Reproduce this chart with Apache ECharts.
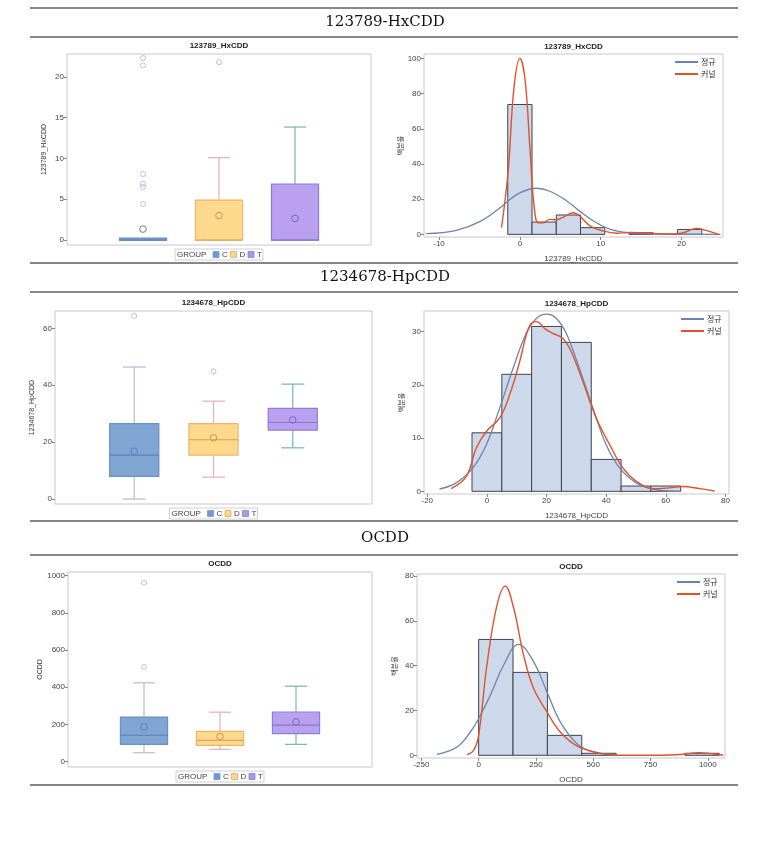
<!DOCTYPE html>
<html><head><meta charset="utf-8">
<script src="https://cdn.jsdelivr.net/npm/echarts@6/dist/echarts.min.js"></script>
<style>html,body{margin:0;padding:0;background:#fff}#c{width:773px;height:848px}</style>
</head><body><div id="c"></div>
<script>
// ---------- DATA ----------
const groups = ['C', 'D', 'T'];
const sections = ['123789-HxCDD', '1234678-HpCDD', 'OCDD'];
const varNames = ['123789_HxCDD', '1234678_HpCDD', 'OCDD'];

// box stats per group: [min, q1, median, q3, max, mean]
const hxBoxC = [0, 0, 0, 0, 0, 1.35];
const hxBoxD = [0, 0, 0, 4.9, 10.1, 3.0];
const hxBoxT = [0, 0, 0, 6.85, 13.85, 2.65];
const hxOutC = [22.3, 21.4, 8.1, 6.9, 6.5, 4.45];
const hxOutD = [21.8];
const hxOutT = [];

const hpBoxC = [0, 7.95, 15.4, 26.5, 46.4, 16.8];
const hpBoxD = [7.7, 15.4, 20.9, 26.5, 34.4, 21.5];
const hpBoxT = [18.0, 24.2, 26.9, 31.9, 40.4, 27.8];
const hpOutC = [64.4];
const hpOutD = [44.9];
const hpOutT = [];

const ocBoxC = [48, 93, 142, 240, 424, 187];
const ocBoxD = [66, 88, 115, 163, 266, 135];
const ocBoxT = [93, 151, 196, 267, 406, 214];
const ocOutC = [962, 510];
const ocOutD = [];
const ocOutT = [];

// histogram bins (lower edge) and percent
const hxBinLo = [-1.5, 1.5, 4.5, 7.5, 10.5, 13.5, 16.5, 19.5];
const hxBinW = 3;
const hxPct = [73.8, 7.0, 11.0, 3.8, 0, 0.9, 0, 2.8];
const hpBinLo = [-5, 5, 15, 25, 35, 45, 55];
const hpBinW = 10;
const hpPct = [11, 22, 31, 28, 6, 1, 1];
const ocBinLo = [0, 150, 300, 450, 600, 750, 900];
const ocBinW = 150;
const ocPct = [51.7, 37, 8.9, 0.9, 0, 0, 0.9];

// curves: [x, percent]
const hxNormal = [[-11.6,0.4],[-7.85,2.3],[-4.96,7.2],[-2.48,15],[-1.5,18.8],[0,23.6],[2.07,26.2],[3.7,24.5],[5.8,19],[7.4,13.2],[9.1,7.6],[11.2,2.9],[13.6,0.9],[16.9,0.2],[24.8,0]];
const hxKernel = [[-2.27,3.8],[-1.45,36],[-0.74,83],[0,100],[0.62,88.7],[1.24,49],[1.74,17],[2.27,6.6],[2.9,6.6],[3.7,8.5],[4.5,8.3],[5.4,9.8],[6.6,12.3],[7.4,10.4],[8.7,4.7],[10.3,1.9],[12,0.6],[13.6,1.1],[15.3,0.75],[16.9,0.4],[19,0.2],[20.2,0.9],[21.9,3.4],[23,2.3],[24.6,0]];
const hpNormal = [[-15.9,0.44],[-10.3,1.6],[-4.7,4.4],[-0.2,8.75],[4.25,15.6],[8.7,23],[13.2,29.7],[16.6,32.5],[20,33.3],[23.3,32.5],[26.6,29.7],[31.1,23],[35.6,15.6],[40,8.75],[44.5,4.4],[50.1,1.6],[56.8,0.3],[64.6,0]];
const hpKernel = [[-12,0.5],[-6.9,2.8],[-3.6,8.1],[-0.2,11.25],[4.25,13.75],[7.6,18.1],[11,24.4],[13.2,29.4],[14.9,31.6],[16.6,31.9],[19.4,30.6],[22.1,29.7],[25.5,28.75],[28.3,26.25],[32.2,20.6],[36.7,13.75],[41.2,8.75],[45.6,4.4],[50.1,1.9],[55.7,0.5],[60.2,0.6],[65.8,0.9],[71.4,0.5],[76.4,0.06]];
const ocNormal = [[-182,0.45],[-94,3.7],[-36,10.4],[0,16.4],[51,26.8],[109,40.2],[174,49.5],[240,41.7],[298,28.3],[356,14.9],[429,5.2],[501,1.5],[603,0.3]];
const ocKernel = [[-51,0.3],[-22,2.2],[0,8.9],[36,40.2],[80,67],[116,75.5],[153,65.6],[196,44.7],[240,29.8],[298,19.4],[356,10.4],[429,4.2],[516,1.2],[603,0],[778,0],[894,0.45],[959,1.2],[1025,0.6],[1068,0]];

// axis ranges and ticks
const boxYRange = [[-0.6, 22.8], [-1.75, 66.1], [-28.7, 1020]];
const boxYTicks = [[0,5,10,15,20], [0,20,40,60], [0,200,400,600,800,1000]];
const histXRange = [[-11.86, 25.12], [-21.1, 81.2], [-269, 1075]];
const histXTicks = [[-10,0,10,20], [-20,0,20,40,60,80], [-250,0,250,500,750,1000]];
const histYRange = [[-1.5, 102.5], [-0.5, 33.9], [-1.2, 80.9]];
const histYTicks = [[0,20,40,60,80,100], [0,10,20,30], [0,20,40,60,80]];

// ---------- STYLE / LAYOUT ----------
const boxGrids = [
  {left:67, top:54, width:304, height:191},
  {left:55, top:311, width:317, height:193},
  {left:68, top:572, width:304, height:195}
];
const histGrids = [
  {left:424, top:54, width:299, height:183},
  {left:424, top:311, width:305, height:183},
  {left:417, top:574, width:308, height:184}
];
const gStyle = {
  C: {fill:'rgba(110,153,204,0.88)', stroke:'#6a90c4', whisk:'#bcb7d6', med:'#5d82b8', mean:'#5d7fb8', out:'#b5b1d2', leg:'#6e9ad0', legB:'#6e9ad0'},
  D: {fill:'#fdd98c', stroke:'#efb56c', whisk:'#e7aeb6', med:'#e8a860', mean:'#d0905a', out:'#dfa0a8', leg:'#fcd78a', legB:'#e8a860'},
  T: {fill:'#bba0f0', stroke:'#8d7fd8', whisk:'#79b6a2', med:'#8478d0', mean:'#7366c4', out:'#79b6a2', leg:'#a998e8', legB:'#8d7fd8'}
};
const tickFont = {fontSize:8, color:'#444', fontFamily:'Liberation Sans'};
const boxSets = [
  {stats:[hxBoxC,hxBoxD,hxBoxT], outs:[hxOutC,hxOutD,hxOutT]},
  {stats:[hpBoxC,hpBoxD,hpBoxT], outs:[hpOutC,hpOutD,hpOutT]},
  {stats:[ocBoxC,ocBoxD,ocBoxT], outs:[ocOutC,ocOutD,ocOutT]}
];
const histSets = [
  {lo:hxBinLo, w:hxBinW, pct:hxPct, nrm:hxNormal, ker:hxKernel},
  {lo:hpBinLo, w:hpBinW, pct:hpPct, nrm:hpNormal, ker:hpKernel},
  {lo:ocBinLo, w:ocBinW, pct:ocPct, nrm:ocNormal, ker:ocKernel}
];

const grid = [], xAxis = [], yAxis = [], series = [], graphic = [], legend = [];

function valAxis(gi, range, ticks, extra) {
  return Object.assign({
    type:'value', gridIndex:gi, min:range[0], max:range[1],
    axisLine:{show:false, onZero:false}, splitLine:{show:false},
    axisTick:{show:true, length:3, lineStyle:{color:'#888'}, customValues:ticks},
    axisLabel:Object.assign({margin:3, customValues:ticks, formatter: v => String(v)}, tickFont)
  }, extra || {});
}

function boxRender(params, api) {
  const g = groups[params.dataIndex];
  const s = gStyle[g];
  const x = api.value(0), mn = api.value(1), q1 = api.value(2), md = api.value(3), q3 = api.value(4), mx = api.value(5), mean = api.value(6);
  const hw = 0.31, cw = 0.145;
  const a = api.coord([x - hw, q3]), b = api.coord([x + hw, q1]);
  const c = api.coord([x, 0]);
  const pMax = api.coord([x, mx])[1], pMin = api.coord([x, mn])[1];
  const cl = api.coord([x - cw, 0])[0], cr = api.coord([x + cw, 0])[0];
  const pMed = api.coord([x, md])[1], pMean = api.coord([x, mean])[1];
  const h = Math.max(b[1] - a[1], 2);
  const ls = {stroke:s.whisk, lineWidth:1.2};
  return {type:'group', children:[
    {type:'line', shape:{x1:c[0], y1:a[1], x2:c[0], y2:pMax}, style:ls},
    {type:'line', shape:{x1:cl, y1:pMax, x2:cr, y2:pMax}, style:ls},
    {type:'line', shape:{x1:c[0], y1:b[1], x2:c[0], y2:pMin}, style:ls},
    {type:'line', shape:{x1:cl, y1:pMin, x2:cr, y2:pMin}, style:ls},
    {type:'rect', shape:{x:a[0], y:b[1]-h, width:b[0]-a[0], height:h}, style:{fill:s.fill, stroke:s.stroke, lineWidth:1.2}},
    {type:'line', shape:{x1:a[0], y1:pMed, x2:b[0], y2:pMed}, style:{stroke:s.med, lineWidth:1.2}},
    {type:'circle', shape:{cx:c[0], cy:pMean, r:3.3}, style:{fill:'none', stroke:s.mean, lineWidth:1}}
  ]};
}

function histRender(params, api) {
  const x0 = api.value(0), x1 = api.value(1), h = api.value(2);
  const p0 = api.coord([x0, h]), p1 = api.coord([x1, 0]);
  return {type:'rect', shape:{x:p0[0], y:p0[1], width:p1[0]-p0[0], height:p1[1]-p0[1]},
    style:{fill:'#cdd8ea', stroke:'#3d4352', lineWidth:1}};
}

for (let k = 0; k < 3; k++) {
  // ---- boxplot panel ----
  const bg = grid.length;
  grid.push(Object.assign({show:true, borderColor:'#c8c8c8', borderWidth:1, backgroundColor:'#fff'}, boxGrids[k]));
  xAxis.push({type:'value', gridIndex:bg, min:0, max:4, show:false});
  yAxis.push(valAxis(bg, boxYRange[k], boxYTicks[k], {
    name:varNames[k], nameLocation:'middle', nameGap:19,
    nameTextStyle:{fontSize:7, color:'#333', fontFamily:'Liberation Sans'}
  }));
  const bs = boxSets[k];
  series.push({type:'custom', xAxisIndex:bg, yAxisIndex:bg, renderItem:boxRender,
    encode:{x:0, y:[1,2,3,4,5]}, z:3,
    data: groups.map((g, i) => [i + 1].concat(bs.stats[i]))});
  groups.forEach((g, i) => {
    series.push({type:'scatter', xAxisIndex:bg, yAxisIndex:bg, symbol:'circle', symbolSize:5, z:4,
      itemStyle:{color:'rgba(255,255,255,0)', borderColor:gStyle[g].out, borderWidth:1},
      data: bs.outs[i].map(v => [i + 1, v])});
  });
  // legend box graphic
  const bgr = boxGrids[k];
  const lcx = bgr.left + bgr.width / 2;
  const lcy = bgr.top + bgr.height + 9.5;
  const lg = [{type:'rect', shape:{x:lcx-44, y:lcy-5.5, width:88, height:11}, style:{fill:'#fff', stroke:'#d0d0d0', lineWidth:1}},
    {type:'text', x:lcx-42, y:lcy, style:{text:'GROUP', fontSize:8, fill:'#444', fontFamily:'Liberation Sans', verticalAlign:'middle'}}];
  groups.forEach((g, i) => {
    const sx = lcx - 6 + i * 17.5;
    lg.push({type:'rect', shape:{x:sx, y:lcy-3, width:6, height:6}, style:{fill:gStyle[g].leg, stroke:gStyle[g].legB, lineWidth:0.8}});
    lg.push({type:'text', x:sx + 9, y:lcy, style:{text:g, fontSize:8, fill:'#444', fontFamily:'Liberation Sans', verticalAlign:'middle'}});
  });
  graphic.push({type:'group', children:lg});
  graphic.push({type:'text', x:lcx, y:bgr.top - 8, style:{text:varNames[k], fontSize:8, fontWeight:'bold', fill:'#222', fontFamily:'Liberation Sans', align:'center', verticalAlign:'middle'}});

  // ---- histogram panel ----
  const hg = grid.length;
  const hgr = histGrids[k];
  grid.push(Object.assign({show:true, borderColor:'#c8c8c8', borderWidth:1, backgroundColor:'#fff'}, hgr));
  xAxis.push(valAxis(hg, histXRange[k], histXTicks[k], {
    name:varNames[k], nameLocation:'middle', nameGap:18,
    nameTextStyle:{fontSize:8, color:'#444', fontFamily:'Liberation Sans'}
  }));
  yAxis.push(valAxis(hg, histYRange[k], histYTicks[k], {
    name:'백분율', nameLocation:'middle', nameGap:19,
    nameTextStyle:{fontSize:7, color:'#444', fontFamily:'Noto Sans CJK KR'}
  }));
  const hs = histSets[k];
  series.push({type:'custom', xAxisIndex:hg, yAxisIndex:hg, renderItem:histRender, encode:{x:[0,1], y:2}, z:2,
    data: hs.lo.map((lo, i) => [lo, lo + hs.w, hs.pct[i]]).filter(d => d[2] > 0)});
  series.push({type:'line', name:'정규', xAxisIndex:hg, yAxisIndex:hg, data:hs.nrm, smooth:0.4, symbol:'none', z:3,
    lineStyle:{color:'#6b84ae', width:1.3}, itemStyle:{color:'#6b84ae'}});
  series.push({type:'line', name:'커널', xAxisIndex:hg, yAxisIndex:hg, data:hs.ker, smooth:0.4, symbol:'none', z:4,
    lineStyle:{color:'#e0532a', width:1.4}, itemStyle:{color:'#e0532a'}});
  legend.push({data:['정규','커널'], orient:'vertical', left:hgr.left + hgr.width - 48, top:hgr.top + 4,
    icon:'rect', itemWidth:23, itemHeight:2, itemGap:4, padding:0, selectedMode:false,
    textStyle:{fontSize:8, color:'#333', fontFamily:'Noto Sans CJK KR', padding:[0,0,0,-2]}});
  graphic.push({type:'text', x:hgr.left + hgr.width / 2, y:hgr.top - 7, style:{text:varNames[k], fontSize:8, fontWeight:'bold', fill:'#222', fontFamily:'Liberation Sans', align:'center', verticalAlign:'middle'}});
}

// section separators and titles
const sepY = [8, 37, 263, 292, 521, 555, 785];
sepY.forEach(y => graphic.push({type:'line', shape:{x1:30, y1:y, x2:738, y2:y}, style:{stroke:'#111', lineWidth:1.2}}));
const secTitleY = [22.5, 277.5, 538];
sections.forEach((t, i) => graphic.push({type:'text', x:385, y:secTitleY[i], style:{text:t, fontSize:15, fill:'#111', fontFamily:'DejaVu Serif', align:'center', verticalAlign:'middle'}}));

const chart = echarts.init(document.getElementById('c'), null, {renderer:'canvas', width:773, height:848});
chart.setOption({backgroundColor:'#fff', animation:false, grid, xAxis, yAxis, series, legend, graphic});
</script></body></html>
